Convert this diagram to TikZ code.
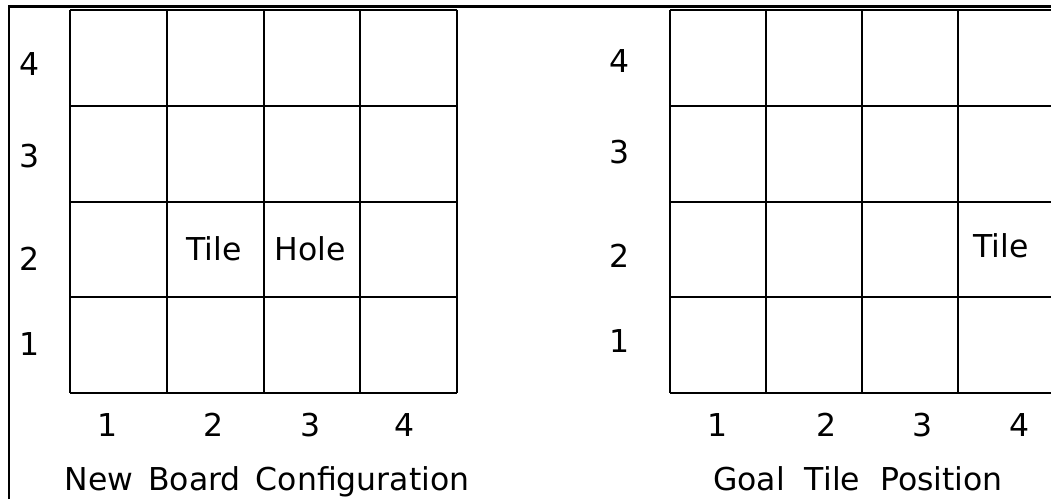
\documentclass[tikz,border=0pt]{standalone}
\usepackage{fontspec}
\setmainfont{DejaVu Sans}
\usetikzlibrary{positioning}

\begin{document}
\begin{tikzpicture}[
    x=1pt, y=-1pt,
    lbl/.style={inner sep=0pt, anchor=base, font=\fontsize{31.5}{36}\selectfont},
    gridline/.style={line width=2pt, black},
    frame/.style={line width=2pt, black}
]
    \useasboundingbox (0,0) rectangle (1051,499);
    \clip (0,0) rectangle (1051,499);

    % outer frame
    \draw[frame] (9,499) -- (9,6);
    \draw[line width=3pt] (8,6) -- (1051,6);

    % left board
    \foreach \i in {0,...,4} {
        \draw[gridline] (70+96.75*\i,10) -- (70+96.75*\i,393);
        \draw[gridline] (70,10+95.75*\i) -- (457,10+95.75*\i);
    }
    % right board
    \foreach \i in {0,...,4} {
        \draw[gridline] (670+96*\i,10) -- (670+96*\i,393);
        \draw[gridline] (670,10+95.75*\i) -- (1054,10+95.75*\i);
    }

    % row numbers
    \foreach \r/\yl/\yr in {4/75/72, 3/167/163, 2/270/267, 1/355/352} {
        \node[lbl] (lrow\r) at (30,\yl) {\r};
        \node[lbl] (rrow\r) at (620,\yr) {\r};
    }
    % column numbers
    \foreach \c/\xl/\xr in {1/108/718, 2/214/827, 3/311/923, 4/405/1020} {
        \node[lbl] (lcol\c) at (\xl,436) {\c};
        \node[lbl] (rcol\c) at (\xr,436) {\c};
    }

    % cell texts
    \node[lbl] (tile) at (214,260) {Tile};
    \node[lbl] (hole) at (310,260) {Hole};
    \node[lbl] (goal) at (1001,257) {Tile};

    % captions
    \node[lbl] (newcfg) at (267,490) {New\hspace{15pt}Board\hspace{15pt}Configuration};
    \node[lbl] (goalpos) at (858,490) {Goal\hspace{20pt}Tile\hspace{20pt}Position};
\end{tikzpicture}
\end{document}
